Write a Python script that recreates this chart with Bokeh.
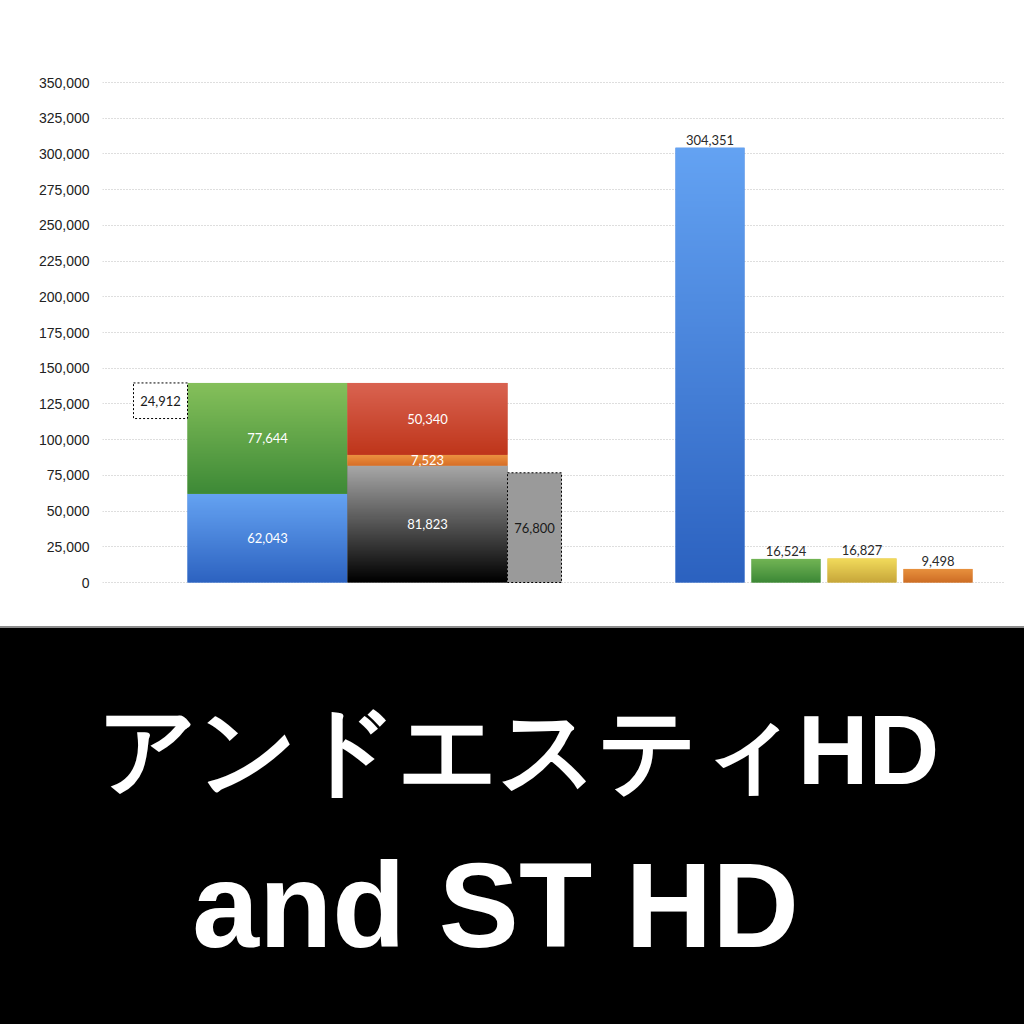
import numpy as np
from bokeh.plotting import figure
from bokeh.models import Range1d, NumeralTickFormatter, FixedTicker, ColumnDataSource, Label
from bokeh.layouts import column
from bokeh.core.properties import value
from bokeh.embed import file_html
from bokeh.resources import INLINE

# ---------------- data ----------------
left_box_value = 24912
stack_a_values = [62043, 77644]            # blue, green
stack_b_values = [81823, 7523, 50340]      # black, orange, red
right_box_value = 76800
single_values = [304351, 16524, 16827, 9498]
y_ticks = list(range(0, 350001, 25000))
title_jp = "アンドエスティHD"
title_en = "and ST HD"

# ---------------- layout / style ----------------
stack_a_edges = (85, 245)
stack_b_edges = (245, 405)
left_box_edges = (31, 85)
right_box_edges = (405, 459)
single_lefts = [573, 649, 725, 801]
single_width = 69

stack_a_grad = [("#66a4f3", "#2d63c1"), ("#86c15b", "#3e8a37")]
stack_b_grad = [("#a9a9a9", "#000000"), ("#ee9542", "#d86f28"), ("#da6452", "#bf361b")]
single_grad = [("#64a3f3", "#2c62c0"), ("#74b656", "#3d8937"),
               ("#f3dc5c", "#c8a73b"), ("#ea933f", "#cf6e26")]

LABEL_FONT = value("Lato")
W = 1024


def hex_rgb(h):
    h = h.lstrip("#")
    return np.array([int(h[i:i + 2], 16) for i in (0, 2, 4)], dtype=float)


def grad_image(top, bottom, n=256):
    t = np.linspace(0.0, 1.0, n)[:, None]
    rgb = hex_rgb(bottom) * (1 - t) + hex_rgb(top) * t
    img = np.zeros((n, 1), dtype=np.uint32)
    view = img.view(dtype=np.uint8).reshape((n, 1, 4))
    view[:, 0, 0] = rgb[:, 0].astype(np.uint8)
    view[:, 0, 1] = rgb[:, 1].astype(np.uint8)
    view[:, 0, 2] = rgb[:, 2].astype(np.uint8)
    view[:, 0, 3] = 255
    return img


def mid_hex(top, bottom):
    c = (hex_rgb(top) + hex_rgb(bottom)) / 2
    return "#%02x%02x%02x" % tuple(int(v) for v in c)


p = figure(width=W, height=626, output_backend="svg", toolbar_location=None,
           x_range=Range1d(0, 903), y_range=Range1d(-7000, 357000),
           min_border_left=102, min_border_right=19, min_border_top=72, min_border_bottom=34,
           styles={"background-color": "white"})
p.xaxis.visible = False
p.xgrid.visible = False
p.outline_line_color = None
p.yaxis.ticker = FixedTicker(ticks=y_ticks)
p.yaxis.formatter = NumeralTickFormatter(format="0,0")
p.yaxis.axis_line_color = None
p.yaxis.major_tick_line_color = None
p.yaxis.minor_tick_line_color = None
p.yaxis.major_tick_out = 0
p.yaxis.major_label_standoff = 13
p.yaxis.major_label_text_font = "Liberation Sans"
p.yaxis.major_label_text_font_size = "14px"
p.yaxis.major_label_text_color = "#222222"
p.ygrid.grid_line_color = "#bdbdbd"
p.ygrid.grid_line_dash = "1 2"
p.ygrid.grid_line_width = 1


def draw_bar(left, right, bottom, top, colors):
    p.quad(left=[left], right=[right], bottom=[bottom], top=[top],
           fill_color=mid_hex(*colors), line_color=None)
    p.image_rgba(image=[grad_image(*colors)], x=left, y=bottom,
                 dw=right - left, dh=top - bottom)


inner = dict(x=[], y=[], t=[])

# stacked bar A
base = 0
for v, c in zip(stack_a_values, stack_a_grad):
    draw_bar(stack_a_edges[0], stack_a_edges[1], base, base + v, c)
    inner["x"].append((stack_a_edges[0] + stack_a_edges[1]) / 2)
    inner["y"].append(base + v / 2)
    inner["t"].append(f"{v:,}")
    base += v
stack_a_total = base

# stacked bar B
base = 0
for v, c in zip(stack_b_values, stack_b_grad):
    draw_bar(stack_b_edges[0], stack_b_edges[1], base, base + v, c)
    inner["x"].append((stack_b_edges[0] + stack_b_edges[1]) / 2)
    inner["y"].append(base + v / 2)
    inner["t"].append(f"{v:,}")
    base += v

p.text(x="x", y="y", text="t", source=ColumnDataSource(inner),
       text_color="white", text_font=LABEL_FONT, text_font_size="13px",
       text_align="center", text_baseline="middle")

# dashed boxes
box_src = ColumnDataSource(dict(
    left=[left_box_edges[0], right_box_edges[0]],
    right=[left_box_edges[1], right_box_edges[1]],
    bottom=[stack_a_total - left_box_value, 0],
    top=[stack_a_total, right_box_value],
    fill=["white", "#9a9a9a"],
    x=[(left_box_edges[0] + left_box_edges[1]) / 2, (right_box_edges[0] + right_box_edges[1]) / 2],
    y=[stack_a_total - left_box_value / 2, right_box_value / 2],
    t=[f"{left_box_value:,}", f"{right_box_value:,}"],
))
p.quad(left="left", right="right", bottom="bottom", top="top", fill_color="fill",
       line_color="black", line_dash="2 2", line_width=1, source=box_src)
p.text(x="x", y="y", text="t", source=box_src, text_color="#1a1a1a",
       text_font=LABEL_FONT, text_font_size="13px",
       text_align="center", text_baseline="middle")

# single bars
sx, sy, st = [], [], []
for l, v, c in zip(single_lefts, single_values, single_grad):
    draw_bar(l, l + single_width, 0, v, c)
    sx.append(l + single_width / 2)
    sy.append(v)
    st.append(f"{v:,}")
p.text(x=sx, y=sy, text=st, text_color="#2a2a2a", text_font=LABEL_FONT,
       text_font_size="13px", text_align="center", text_baseline="bottom", y_offset=-3)

# ---------------- banner ----------------
BH = 396
b = figure(width=W, height=BH, output_backend="svg", toolbar_location=None,
           x_range=Range1d(102, 1005), y_range=Range1d(0, BH),
           min_border_left=102, min_border_right=19, min_border_top=0, min_border_bottom=0,
           styles={"background-color": "black"})
b.xaxis.visible = False
b.yaxis.visible = False
b.xgrid.visible = False
b.ygrid.visible = False
b.outline_line_color = None
b.background_fill_color = "black"
b.border_fill_color = "black"
b.add_layout(Label(x=495, y=120, text=title_en, text_color="white",
                   text_font="Liberation Sans", text_font_style="bold", text_font_size="120px",
                   text_align="center", text_baseline="alphabetic"))
b.add_layout(Label(x=518, y=275, text=title_jp, text_color="white",
                   text_font="Liberation Sans", text_font_style="bold", text_font_size="98px",
                   text_align="center", text_baseline="alphabetic"))

layout = column(p, b, spacing=2, styles={"background-color": "#8c8c8c"})
open("out.html", "w").write(file_html(layout, INLINE))
